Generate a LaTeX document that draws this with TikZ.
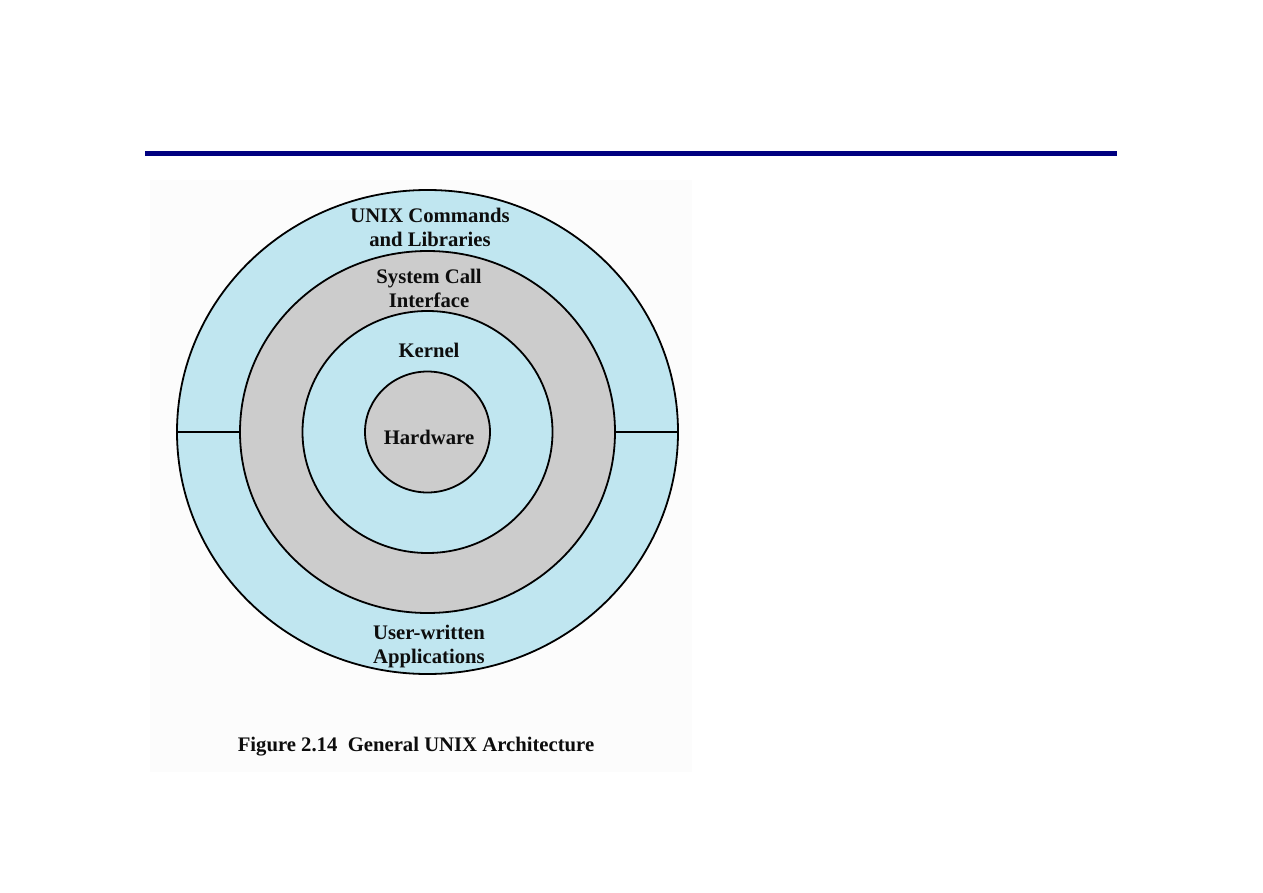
\documentclass[tikz,border=0pt]{standalone}
\usepackage{fontspec}
\setmainfont{Liberation Serif}
\usetikzlibrary{shapes.geometric}
\definecolor{navy}{RGB}{0,0,128}
\definecolor{ringblue}{RGB}{192,230,240}
\definecolor{ringgray}{RGB}{204,204,204}
\definecolor{panel}{RGB}{252,252,252}
\tikzset{
  ring/.style={ellipse, draw=black, line width=1.8pt, inner sep=0pt},
  lbl/.style={font=\bfseries\fontsize{20.7}{24}\selectfont, align=center, inner sep=0pt, text=black!95},
}
\begin{document}
\begin{tikzpicture}[x=1pt,y=-1pt]
\useasboundingbox (0,0) rectangle (1263,893);
\fill[white] (0,0) rectangle (1263,893);
\fill[panel] (150,180) rectangle (692,772);
\draw[navy, line width=5pt] (145,153.5) -- (1117,153.5);
\node[ring, fill=ringblue, minimum width=501pt, minimum height=484pt] (outer) at (427.5,432) {};
\node[ring, fill=ringgray, minimum width=375pt, minimum height=362pt] (sci) at (427.5,432) {};
\node[ring, fill=ringblue, minimum width=250pt, minimum height=242pt] (kern) at (427.5,432) {};
\node[ring, fill=ringgray, minimum width=125pt, minimum height=121pt] (hw) at (427.5,432) {};
\draw[line width=1.8pt] (outer.west) -- (sci.west);
\draw[line width=1.8pt] (sci.east) -- (outer.east);
\node[lbl] (t1) at (430,227) {UNIX Commands\\and Libraries};
\node[lbl] (t2) at (429,288) {System Call\\Interface};
\node[lbl] (t3) at (429,350) {Kernel};
\node[lbl] (t4) at (429,437) {Hardware};
\node[lbl] (t5) at (429,647) {User-written\\Applications};
\node[lbl] (cap) at (416,747) {Figure 2.14\hspace{0.5em}General UNIX Architecture};
\end{tikzpicture}
\end{document}
